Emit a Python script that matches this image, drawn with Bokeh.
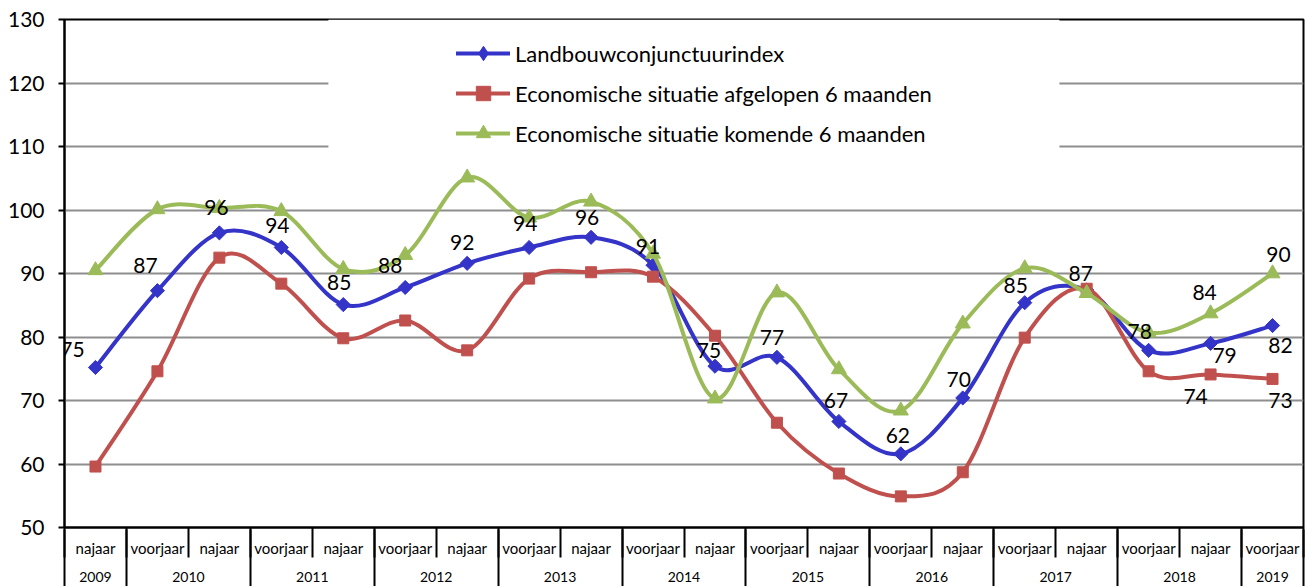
from bokeh.plotting import figure
from bokeh.models import (FixedTicker, LinearAxis, Legend, LegendItem, BoxAnnotation,
                          ColumnDataSource, Range1d)
from bokeh.embed import file_html
from bokeh.resources import INLINE
from bokeh.core.properties import value

# ---------------- data ----------------
seasons = ["najaar", "voorjaar", "najaar", "voorjaar", "najaar", "voorjaar", "najaar",
           "voorjaar", "najaar", "voorjaar", "najaar", "voorjaar", "najaar", "voorjaar",
           "najaar", "voorjaar", "najaar", "voorjaar", "najaar", "voorjaar"]
years = ["2009", "2010", "2010", "2011", "2011", "2012", "2012", "2013", "2013", "2014",
         "2014", "2015", "2015", "2016", "2016", "2017", "2017", "2018", "2018", "2019"]

landbouw = [75.2, 87.3, 96.4, 94.1, 85.1, 87.8, 91.6, 94.1, 95.7, 91.3,
            75.4, 76.8, 66.7, 61.6, 70.4, 85.4, 87.4, 77.9, 79.0, 81.8]
afgelopen = [59.6, 74.6, 92.5, 88.4, 79.8, 82.6, 77.9, 89.2, 90.2, 89.5,
             80.2, 66.5, 58.5, 54.9, 58.7, 79.9, 87.6, 74.6, 74.1, 73.4]
komende = [90.5, 100.1, 100.3, 99.8, 90.7, 92.9, 105.1, 98.8, 101.3, 93.1,
           70.3, 87.0, 74.9, 68.4, 82.1, 90.8, 86.9, 80.7, 83.7, 90.0]

series_names = ["Landbouwconjunctuurindex",
                "Economische situatie afgelopen 6 maanden",
                "Economische situatie komende 6 maanden"]

y_ticks = [50, 60, 70, 80, 90, 100, 110, 120, 130]

# ---------------- styles ----------------
colors = ["#3434C8", "#C0504D", "#9BBB59"]
FONT = "Lato"

# data-label placement (series index, point index, dx px, dy px)
label_spec = [(0, 0, -23, -18), (0, 1, -12, -25), (0, 2, -3, -25), (0, 3, -4, -22),
              (0, 4, -4, -22), (0, 5, -15, -22), (0, 6, -5, -21), (0, 7, -4, -24),
              (0, 8, -4, -20), (0, 9, -5, -19), (0, 10, -6, -16), (0, 11, -5, -20),
              (0, 12, -3, -21), (0, 13, -3, -18), (0, 14, -4, -18), (0, 15, -9, -17),
              (0, 16, -6, -17), (0, 17, -9, -19), (0, 18, 14, 12), (0, 19, 8, 20),
              (2, 18, -6, -21), (2, 19, 6, -19), (1, 18, -15, 22), (1, 19, 8, 22)]

x = list(range(len(seasons)))
all_series = [landbouw, afgelopen, komende]


def bezier_source(ys):
    n = len(ys)
    d = dict(x0=[], y0=[], x1=[], y1=[], cx0=[], cy0=[], cx1=[], cy1=[])
    for i in range(n - 1):
        a = max(i - 1, 0)
        b = min(i + 2, n - 1)
        d["x0"].append(x[i]); d["y0"].append(ys[i])
        d["x1"].append(x[i + 1]); d["y1"].append(ys[i + 1])
        d["cx0"].append(x[i] + (x[i + 1] - x[a]) / 6.0)
        d["cy0"].append(ys[i] + (ys[i + 1] - ys[a]) / 6.0)
        d["cx1"].append(x[i + 1] - (x[b] - x[i]) / 6.0)
        d["cy1"].append(ys[i + 1] - (ys[b] - ys[i]) / 6.0)
    return ColumnDataSource(d)


p = figure(width=1309, height=586, x_range=Range1d(-0.5, len(x) - 0.5),
           y_range=Range1d(50, 130), output_backend="svg", toolbar_location=None,
           x_axis_location=None, y_axis_location="left",
           min_border_left=64, min_border_right=6, min_border_top=19, min_border_bottom=59)
p.background_fill_color = "white"
p.border_fill_color = "white"
p.outline_line_color = "black"
p.outline_line_width = 2

# y axis
p.yaxis.ticker = FixedTicker(ticks=y_ticks)
p.yaxis.major_label_text_font = FONT
p.yaxis.major_label_text_font_size = "21px"
p.yaxis.major_label_text_color = "black"
p.yaxis.major_tick_out = 6
p.yaxis.major_tick_in = 0
p.yaxis.major_tick_line_width = 2
p.yaxis.major_tick_line_color = "black"
p.yaxis.minor_tick_line_color = None
p.yaxis.axis_line_width = 2
p.yaxis.axis_line_color = "black"
p.yaxis.major_label_standoff = 14

p.xgrid.visible = False
p.ygrid.ticker = FixedTicker(ticks=y_ticks)
p.ygrid.grid_line_color = "#8e8e8e"
p.ygrid.grid_line_width = 2

# white legend backdrop (covers gridlines like the Excel legend box)
p.add_layout(BoxAnnotation(left=3.76, right=15.56, top=130, bottom=107.8,
                           fill_color="white", fill_alpha=1.0, line_color=None,
                           level="underlay"))

# category axes: seasons row and years row
bounds = [i - 0.5 for i in range(len(x) + 1)]
ax1 = LinearAxis(ticker=FixedTicker(ticks=x, minor_ticks=bounds),
                 major_label_overrides={i: s for i, s in enumerate(seasons)},
                 major_tick_out=0, major_tick_in=0, major_tick_line_color=None,
                 minor_tick_out=30, minor_tick_in=0, minor_tick_line_color="black",
                 minor_tick_line_width=2, axis_line_color="black", axis_line_width=2,
                 major_label_text_font=FONT, major_label_text_font_size="15px",
                 major_label_text_color="black", major_label_standoff=-19)

year_centers = []
year_labels = []
year_bounds = [-0.5]
i = 0
while i < len(years):
    j = i
    while j + 1 < len(years) and years[j + 1] == years[i]:
        j += 1
    year_centers.append((x[i] + x[j]) / 2.0)
    year_labels.append(years[i])
    year_bounds.append(x[j] + 0.5)
    i = j + 1

ax2 = LinearAxis(ticker=FixedTicker(ticks=year_centers, minor_ticks=year_bounds),
                 major_label_overrides={c: l for c, l in zip(year_centers, year_labels)},
                 major_tick_out=0, major_tick_in=0, major_tick_line_color=None,
                 minor_tick_out=30, minor_tick_in=30, minor_tick_line_color="black",
                 minor_tick_line_width=2, axis_line_color=None,
                 major_label_text_font=FONT, major_label_text_font_size="14px",
                 major_label_text_color="black", major_label_standoff=-18)
p.add_layout(ax1, "below")
p.add_layout(ax2, "below")

# series
markers = [("square", 10, 0.7854), ("square", 11, 0.0), ("triangle", 15, 0.0)]
legend_markers = ["diamond", "square", "triangle"]
items = []
for k, ys in enumerate(all_series):
    bz = p.bezier(x0="x0", y0="y0", x1="x1", y1="y1", cx0="cx0", cy0="cy0",
                  cx1="cx1", cy1="cy1", source=bezier_source(ys),
                  line_color=colors[k], line_width=4, line_cap="round")
    mk, sz, ang = markers[k]
    sc = p.scatter(x=x, y=ys, marker=mk, size=sz, angle=ang, fill_color=colors[k],
                   line_color=colors[k], line_width=1)
    if legend_markers[k] != mk:
        sc_leg = p.scatter(x=x, y=ys, marker=legend_markers[k], size=sz,
                           fill_color=colors[k], line_color=colors[k], visible=False)
        items.append(LegendItem(label=series_names[k], renderers=[bz, sc_leg]))
    else:
        items.append(LegendItem(label=series_names[k], renderers=[bz, sc]))

legend = Legend(items=items, location=(392, 376), orientation="vertical", padding=0,
                margin=0, spacing=4, glyph_width=54, glyph_height=36, label_standoff=5,
                label_text_font=FONT, label_text_font_size="22px", label_text_color="black",
                background_fill_alpha=0, border_line_color=None,
                inactive_fill_alpha=0)
p.add_layout(legend)

# data labels
lx, ly, lt, dx, dy = [], [], [], [], []
for s, idx, ox, oy in label_spec:
    v = all_series[s][idx]
    lx.append(x[idx]); ly.append(v); lt.append(str(int(round(v))))
    dx.append(ox); dy.append(oy)
p.text(x=lx, y=ly, text=lt, x_offset=dx, y_offset=dy, text_font=value(FONT),
       text_font_size="21px", text_align="center", text_baseline="middle",
       text_color="black")

open("out.html", "w").write(file_html(p, INLINE))
